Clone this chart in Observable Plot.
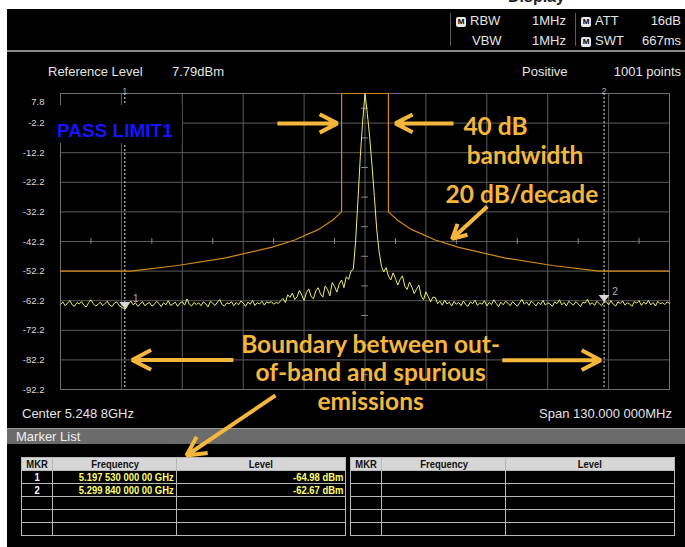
<!DOCTYPE html>
<html><head><meta charset="utf-8">
<script src="https://cdn.jsdelivr.net/npm/d3@7"></script>
<script src="https://cdn.jsdelivr.net/npm/@observablehq/plot@0.6"></script>
<style>
html,body{margin:0;padding:0;background:#fff;}
#wrap{position:relative;width:685px;height:547px;overflow:hidden;background:#fff;font-family:"Liberation Sans",Arial,sans-serif;}
#panel{position:absolute;left:7px;top:9px;width:678px;height:538px;background:#000;}
.t{position:absolute;color:#e4e4e4;font-size:13px;white-space:nowrap;line-height:15px;}
.r{text-align:right;}
.sep{position:absolute;width:1px;background:#5a5a5a;}
.ic{display:inline-block;width:10px;height:10px;background:#e8e8e8;color:#000;font-size:8px;font-weight:bold;line-height:10px;text-align:center;border-radius:2px;vertical-align:1px;margin-right:4px;}
#hline{position:absolute;left:7px;top:50px;width:678px;height:2px;background:#8a8a8a;}
#bar{position:absolute;left:7px;top:428px;width:678px;height:15px;background:#6b6b6b;border-top:1px solid #9a9a9a;}
#bar span{position:absolute;left:9px;top:0;color:#f0f0f0;font-size:13px;line-height:15px;}
table.mk{position:absolute;top:457px;border-collapse:collapse;table-layout:fixed;font-family:"Liberation Sans",Arial,sans-serif;font-size:11.5px;font-weight:bold;}
table.mk td,table.mk th{border:1px solid #b8b8b8;height:12px;padding:0 2px;line-height:12px;overflow:hidden;white-space:nowrap;}
table.mk th{background:#d6d6d6;color:#111;font-weight:bold;text-align:center;}
table.mk td{color:#ffff6e;text-align:right;}
table.mk td.id{color:#fff;text-align:center;}
table.mk span{display:inline-block;transform:scaleX(0.82);}
table.mk td span{transform-origin:100% 50%;}
table.mk th span, table.mk td.id span{transform-origin:50% 50%;}
#svgwrap{position:absolute;left:0;top:0;z-index:2;}
#pass{position:absolute;left:55px;top:105px;width:127px;height:38px;background:#000;z-index:3;}
#pass span{position:absolute;left:2px;top:16px;color:#1515ff;font-weight:bold;font-size:19px;line-height:19px;font-family:"Liberation Sans",Arial,sans-serif;}
</style></head>
<body>
<div id="wrap">
  <div class="t" style="left:508px;top:-11px;color:#222;font-weight:bold;font-size:16px;">Display</div>
  <div id="panel"></div>
  <div id="hdr"></div>
  <div id="hline"></div>
  <div id="bar"><span>Marker List</span></div>
  <div id="tables"></div>
  <div id="svgwrap"></div>
  <div id="pass"><span>PASS LIMIT1</span></div>
</div>
<script>
// ---------------- data ----------------
const centerMHz = 5248.8;           // "Center 5.248 8GHz"
const spanMHz = 130;                // "Span 130.000 000MHz"
const refLevel = 7.8;               // top graticule
const dbPerDiv = 10;
const numDivs = 10;
const yTicks = [7.8, -2.2, -12.2, -22.2, -32.2, -42.2, -52.2, -62.2, -72.2, -82.2, -92.2];

// trace: sweep points every 0.5 MHz from start of span (dBm)
const traceStartMHz = 5183.8;
const traceStepMHz = 0.5;
const traceLevels = [
-63.4,-62.6,-63.9,-63.0,-62.2,-63.6,-64.1,-62.8,-63.3,-62.5,
-63.8,-64.3,-62.9,-61.9,-63.2,-64.0,-63.5,-62.7,-63.9,-63.1,
-62.4,-63.7,-64.2,-63.0,-62.6,-63.8,-64.4,-64.9,-64.8,-63.3,
-62.3,-63.6,-62.9,-64.1,-63.4,-62.5,-63.9,-63.2,-62.8,-64.0,
-63.5,-62.4,-63.1,-64.2,-62.9,-63.6,-62.2,-63.8,-63.3,-62.7,
-64.1,-63.0,-62.5,-63.7,-61.6,-63.4,-64.0,-62.8,-63.5,-62.9,
-63.9,-62.6,-63.2,-64.3,-62.4,-63.1,-63.8,-62.7,-61.8,-63.5,
-64.0,-62.9,-63.3,-62.5,-63.9,-62.8,-63.6,-62.3,-63.0,-64.1,
-62.7,-63.4,-62.1,-63.8,-62.9,-63.3,-62.4,-63.7,-62.6,-63.0,
-62.5,-63.4,-62.8,-63.1,-62.2,-61.4,-62.8,-60.2,-61.1,-59.6,
-61.8,-60.9,-58.7,-60.3,-62.1,-59.4,-58.2,-60.8,-61.5,-58.9,
-57.8,-59.9,-61.0,-57.2,-58.4,-60.6,-56.1,-57.4,-59.3,-56.6,
-55.2,-57.8,-54.1,-55.0,-52.2,-51.6,-42.0,-28.0,-13.5,-1.5,
7.8,
1.0,-7.0,-16.5,-27.0,-38.0,-45.5,-50.5,-52.5,-51.0,
-53.9,-55.2,-52.8,-54.7,-56.9,-55.0,-53.8,-57.3,-58.4,-55.9,
-57.6,-59.8,-58.3,-56.9,-60.7,-61.9,-59.2,-60.8,-62.6,-61.0,
-61.1,-63.2,-62.4,-63.7,-62.0,-63.3,-62.7,-64.0,-62.5,-63.4,
-62.8,-63.9,-62.3,-63.5,-64.1,-62.6,-63.2,-62.0,-63.8,-62.9,
-63.4,-62.2,-64.0,-62.8,-63.5,-61.9,-63.1,-64.2,-62.7,-63.6,
-62.4,-63.0,-63.9,-62.5,-63.3,-64.1,-62.9,-61.8,-63.4,-62.6,
-63.8,-62.3,-63.1,-64.0,-62.7,-63.5,-62.1,-63.7,-62.9,-63.3,
-64.1,-62.6,-63.2,-61.9,-63.6,-62.8,-64.0,-62.4,-63.1,-63.7,
-62.5,-63.3,-64.2,-62.7,-63.0,-61.7,-63.5,-62.9,-63.8,-62.4,
-63.2,-63.9,-62.7,-62.5,-63.6,-62.2,-63.4,-64.0,-62.6,-63.1,
-62.3,-63.7,-62.9,-63.3,-64.1,-62.5,-63.0,-62.2,-63.8,-62.7,
-63.4,-62.1,-63.6,-62.8,-64.0,-62.4,-63.2,-62.9,-63.5,-62.6,-63.1
];

// limit line: offset from center (MHz) and level (dBm)
const limitOffsetMHz = [-65, -50, -40, -30, -20, -15, -10, -7, -5, -5, 5, 5, 7, 10, 15, 20, 30, 40, 50, 65];
const limitLevel     = [-52.2, -52.2, -50.3, -47.8, -44.2, -41.7, -38.2, -35.1, -32.2, 7.8, 7.8, -32.2, -35.1, -38.2, -41.7, -44.2, -47.8, -50.3, -52.2, -52.2];

// markers
const markerIds = ["1", "2"];
const markerFreqGHz = [5.19753, 5.29984];
const markerLevel = [-64.98, -62.67];
const emptyRows = 3;

// header info
const infoRow1 = [["RBW", "1MHz"], ["ATT", "16dB"]];
const infoRow2 = [["VBW", "1MHz"], ["SWT", "667ms"]];

// annotations (MHz, dBm)
const leftAnnoText = ["40 dB", "bandwidth", "20 dB/decade"];
const leftAnnoX = [5269.8, 5270.5, 5266.0];
const leftAnnoY = [-3.6, -13.2, -26.7];
const boundaryText = "Boundary between out-\nof-band and spurious\nemissions";
const boundaryX = 5250.0;
const boundaryY = -86.4;

const arrowX1 = [5230.1, 5267.7, 5274.9, 5220.7, 5278.1, 5229.7];
const arrowY1 = [-2.3, -2.3, -30.4, -82.2, -82.3, -94.2];
const arrowX2 = [5242.9, 5255.3, 5267.4, 5199.1, 5299.1, 5210.7];
const arrowY2 = [-2.3, -2.3, -41.3, -82.2, -82.3, -114.5];

// ---------------- build ----------------
const xDomain = [centerMHz - spanMHz / 2, centerMHz + spanMHz / 2];
const yDomain = [refLevel - dbPerDiv * numDivs, refLevel];
const xDivs = d3.range(numDivs + 1).map(k => xDomain[0] + k * spanMHz / numDivs);
const xHalf = d3.range(numDivs).map(k => xDomain[0] + (k + 0.5) * spanMHz / numDivs);
const yHalf = d3.range(numDivs).map(k => yDomain[0] + (k + 0.5) * dbPerDiv);
const centerLevel = yTicks[5];

const trace = traceLevels.map((v, i) => ({f: traceStartMHz + i * traceStepMHz, v}));
const limit = limitOffsetMHz.map((o, i) => ({f: centerMHz + o, v: limitLevel[i]}));
const markers = markerIds.map((id, i) => ({id, f: markerFreqGHz[i] * 1000, v: markerLevel[i]}));
const leftAnnos = leftAnnoText.map((t, i) => ({t, x: leftAnnoX[i], y: leftAnnoY[i]}));
const arrows = arrowX1.map((x1, i) => ({x1, y1: arrowY1[i], x2: arrowX2[i], y2: arrowY2[i]}));

const orange = "#f5b63c";
const annoFont = {fill: orange, fontSize: 24.5, fontWeight: "bold", fontFamily: "Lato, 'Open Sans', sans-serif", lineAnchor: "middle"};
const markerSymbol = {draw(ctx) { ctx.moveTo(0, 0); ctx.lineTo(-5.5, -7); ctx.lineTo(5.5, -7); ctx.closePath(); }};

const chart = Plot.plot({
  width: 685, height: 547,
  marginLeft: 60, marginRight: 16, marginTop: 93, marginBottom: 158,
  x: {domain: xDomain, axis: null},
  y: {domain: yDomain, axis: null},
  style: {background: "transparent", overflow: "visible", fontFamily: "Liberation Sans, Arial, sans-serif"},
  marks: [
    Plot.gridY(yTicks, {stroke: "#5c5c5c", strokeOpacity: 1}),
    Plot.gridX(xDivs, {stroke: "#5c5c5c", strokeOpacity: 1}),
    Plot.frame({stroke: "#707070"}),
    Plot.ruleX(xHalf, {y1: centerLevel - 1, y2: centerLevel + 1, stroke: "#8a8a8a"}),
    Plot.ruleY(yHalf, {x1: centerMHz - 0.7, x2: centerMHz + 0.7, stroke: "#8a8a8a"}),
    Plot.ruleX(markers, {x: "f", stroke: "#e0e0e0", strokeDasharray: "2,2", strokeWidth: 1}),
    Plot.line(limit, {x: "f", y: "v", stroke: "#d08a18", strokeWidth: 1.2}),
    Plot.line(trace, {x: "f", y: "v", stroke: "#eeee6a", strokeWidth: 1}),
    Plot.dot(markers, {x: "f", y: "v", symbol: markerSymbol, fill: "#d8d8d8", stroke: "none"}),
    Plot.text(markers, {x: "f", y: "v", text: "id", dx: 11, dy: -10, fill: "#b0b0b0", fontSize: 10}),
    Plot.text(markers, {x: "f", text: "id", frameAnchor: "top", dy: -6, fill: "#b0b0b0", fontSize: 9}),
    Plot.text(yTicks.slice(1), {y: d => d, text: d => d.toFixed(1), frameAnchor: "left", dx: -16, textAnchor: "end", fill: "#d8d8d8", fontSize: 9.5}),
    Plot.text(yTicks.slice(0, 1), {y: d => d, text: d => d.toFixed(1), frameAnchor: "left", dx: -16, dy: 8, textAnchor: "end", fill: "#d8d8d8", fontSize: 9.5}),
    Plot.text(leftAnnos, {x: "x", y: "y", text: "t", textAnchor: "start", ...annoFont}),
    Plot.text([boundaryText], {x: boundaryX, y: boundaryY, text: d => d, textAnchor: "middle", lineHeight: 1.155, ...annoFont}),
    Plot.arrow(arrows, {x1: "x1", y1: "y1", x2: "x2", y2: "y2", stroke: orange, strokeWidth: 4, headAngle: 55, headLength: 8, strokeLinecap: "butt"})
  ]
});
document.getElementById("svgwrap").appendChild(chart);

// header text
const hdr = document.getElementById("hdr");
function addT(txt, left, top, cls, extra) {
  const d = document.createElement("div");
  d.className = "t" + (cls ? " " + cls : "");
  d.innerHTML = txt;
  d.style.left = left + "px"; d.style.top = top + "px";
  if (extra) Object.assign(d.style, extra);
  hdr.appendChild(d);
  return d;
}
function sep(left) { const s = document.createElement("div"); s.className = "sep"; s.style.left = left + "px"; s.style.top = "13px"; s.style.height = "33px"; hdr.appendChild(s); }
sep(450); sep(575);
addT('<span class="ic">M</span>' + infoRow1[0][0], 456, 13);
addT(infoRow1[0][1], 500, 13, "r", {width: "66px"});
addT('<span class="ic">M</span>' + infoRow1[1][0], 581, 13);
addT(infoRow1[1][1], 620, 13, "r", {width: "61px"});
addT(infoRow2[0][0], 472, 33);
addT(infoRow2[0][1], 500, 33, "r", {width: "66px"});
addT('<span class="ic">M</span>' + infoRow2[1][0], 581, 33);
addT(infoRow2[1][1], 620, 33, "r", {width: "61px"});
addT("Reference Level", 48, 64);
addT("7.79dBm", 172, 64);
addT("Positive", 522, 64);
addT("1001 points", 560, 64, "r", {width: "121px"});
addT("Center 5.248 8GHz", 22, 406);
addT("Span 130.000 000MHz", 472, 406, "r", {width: "200px"});

// marker tables
function fmtFreq(g) {
  const s = g.toFixed(11); const [a, b] = s.split(".");
  return a + "." + b.match(/.{1,3}/g).join(" ") + " GHz";
}
function makeTable(left, rows) {
  const t = document.createElement("table");
  t.className = "mk"; t.style.left = left + "px";
  let h = '<colgroup><col style="width:31px"><col style="width:124px"><col style="width:169px"></colgroup>';
  h += "<tr><th><span>MKR</span></th><th><span>Frequency</span></th><th><span>Level</span></th></tr>";
  rows.forEach(r => { h += `<tr><td class="id"><span>${r[0]}</span></td><td><span>${r[1]}</span></td><td><span>${r[2]}</span></td></tr>`; });
  t.innerHTML = h;
  document.getElementById("tables").appendChild(t);
}
const leftRows = markers.map(m => [m.id, fmtFreq(m.f / 1000), m.v.toFixed(2) + " dBm"]);
for (let k = 0; k < emptyRows; k++) leftRows.push(["", "", ""]);
const rightRows = d3.range(markers.length + emptyRows).map(() => ["", "", ""]);
makeTable(21, leftRows);
makeTable(350, rightRows);
</script>
</body></html>
